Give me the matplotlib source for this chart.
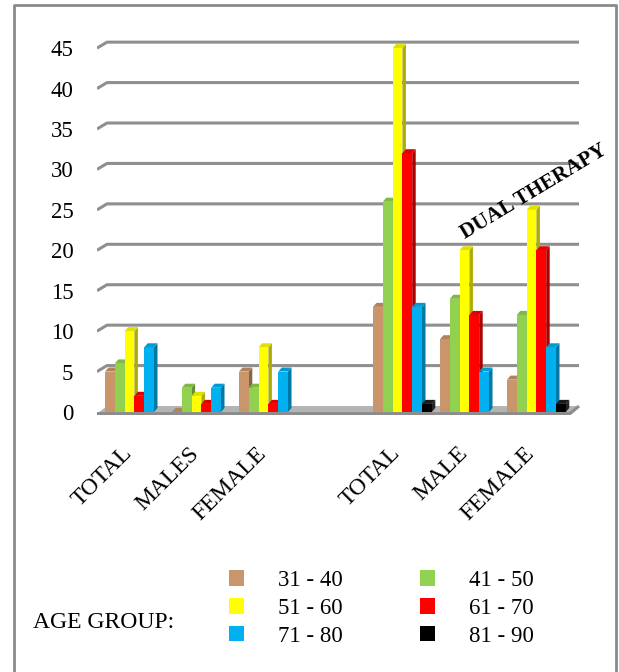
import numpy as np
import matplotlib.pyplot as plt
from matplotlib.patches import Polygon, Patch
from matplotlib.lines import Line2D
from matplotlib.colors import to_rgb

plt.rcParams['font.family'] = ['Liberation Serif', 'DejaVu Serif']

#%% data
categories = ['TOTAL', 'MALES', 'FEMALE', 'TOTAL', 'MALE', 'FEMALE']
slots = [0, 1, 2, 4, 5, 6]          # 4th slot left empty (gap between blocks)
age_groups = ['31 - 40', '41 - 50', '51 - 60', '61 - 70', '71 - 80', '81 - 90']
colors = ['#c9956a', '#92d050', '#ffff00', '#ff0000', '#00b0f0', '#000000']

v_31_40 = [5, 0, 5, 13, 9, 4]
v_41_50 = [6, 3, 3, 26, 14, 12]
v_51_60 = [10, 2, 8, 45, 20, 25]
v_61_70 = [2, 1, 1, 32, 12, 20]
v_71_80 = [8, 3, 5, 13, 5, 8]
v_81_90 = [0, 0, 0, 1, 0, 1]
series = [v_31_40, v_41_50, v_51_60, v_61_70, v_71_80, v_81_90]
has_81_90 = [False, False, False, True, False, True]
yticks = [0, 5, 10, 15, 20, 25, 30, 35, 40, 45]

#%% figure
W, H = 619, 672
fig = plt.figure(figsize=(W/100, H/100), dpi=100)
x_left_px, x_right_px = 97, 600
ymin, ymax = -0.4, 46
pxu = 8.086                      # pixels per unit value
y0_px = 412
ax = fig.add_axes([x_left_px/W, 1-(y0_px - ymin*pxu)/H,
                   (x_right_px-x_left_px)/W, (ymax-ymin)*pxu/H])
slot_px = 67.0
xmin = (x_left_px-105)/slot_px
ax.set_xlim(xmin, (x_right_px-105)/slot_px)
ax.set_ylim(ymin, ymax)
for s in ax.spines.values():
    s.set_visible(False)

grid_c = '#8f8f8f'
gdx, gdy = 10/slot_px, 0.74
x_back_end = (579-105)/slot_px
for v in yticks[1:]:
    ax.plot([xmin, xmin+gdx, x_back_end], [v, v+gdy, v+gdy], color=grid_c,
            lw=2.2, solid_capstyle='butt', zorder=1)

# floor
x_front_end = (570-105)/slot_px
floor = Polygon([[xmin, -0.2], [x_front_end, -0.2], [x_back_end, gdy],
                 [xmin+gdx, gdy]], closed=True, facecolor='#b4b4b4',
                edgecolor='none', zorder=1)
ax.add_patch(floor)

# bars with fake 3D faces
bw = 9.8/slot_px
ddx, ddy = 3.5/slot_px, 0.5
z = 2
for g, s in enumerate(slots):
    for j, vals in enumerate(series):
        if j == 5 and not has_81_90[g]:
            continue
        v = vals[g]
        c = np.array(to_rgb(colors[j]))
        side_c = c*0.68 if j != 5 else (0.15, 0.15, 0.15)
        top_c = c*0.88 if j != 5 else (0.1, 0.1, 0.1)
        x = s + j*bw
        ax.add_patch(Polygon([[x+bw, 0], [x+bw+ddx, ddy], [x+bw+ddx, v+ddy], [x+bw, v]],
                             closed=True, facecolor=side_c, edgecolor='none', zorder=z))
        ax.add_patch(Polygon([[x, v], [x+bw, v], [x+bw+ddx, v+ddy], [x+ddx, v+ddy]],
                             closed=True, facecolor=top_c, edgecolor='none', zorder=z))
        ax.bar(x, v, width=bw, align='edge', color=colors[j], edgecolor='none', zorder=z+1)
        z += 2

ax.plot([xmin, x_front_end, x_back_end], [-0.2, -0.2, gdy], color='#8c8c8c', lw=2.2,
        solid_capstyle='butt', zorder=z+1)

ax.set_yticks(yticks)
ax.set_yticklabels([str(t) for t in yticks], fontsize=16.5)
ax.tick_params(axis='y', length=0, pad=17)
ax.set_xticks([s + 0.42 for s in slots])
ax.set_xticklabels(categories, fontsize=17, rotation=45, ha='right',
                   va='baseline', rotation_mode='anchor')
ax.tick_params(axis='x', length=0, pad=28)

ax.text((534-105)/slot_px, (y0_px-192)/pxu, 'DUAL THERAPY', fontsize=15.2,
        fontweight='bold', rotation=31, ha='center', va='center',
        rotation_mode='anchor', zorder=z+2)

# legend
order = [0, 2, 4, 1, 3, 5]
handles = [Patch(facecolor=colors[i], edgecolor='none') for i in order]
labels = [age_groups[i] for i in order]
fig.legend(handles, labels, ncol=2, loc='center left',
           bbox_to_anchor=(229/W, 1-608.5/H), frameon=False, fontsize=16.5,
           handlelength=0.65, handleheight=0.65, handletextpad=1.5,
           columnspacing=3.35, labelspacing=0.3, borderpad=0, borderaxespad=0)
fig.text(33/W, 1-623/H, 'AGE GROUP:', fontsize=17, va='center', ha='left')

# outer frame
fig.add_artist(Line2D([14/W, 14/W, 616/W, 616/W], [0, 1-5/H, 1-5/H, 0],
                      color='#8a8a8a', lw=2, transform=fig.transFigure))

fig.savefig('out.png', dpi=100)
